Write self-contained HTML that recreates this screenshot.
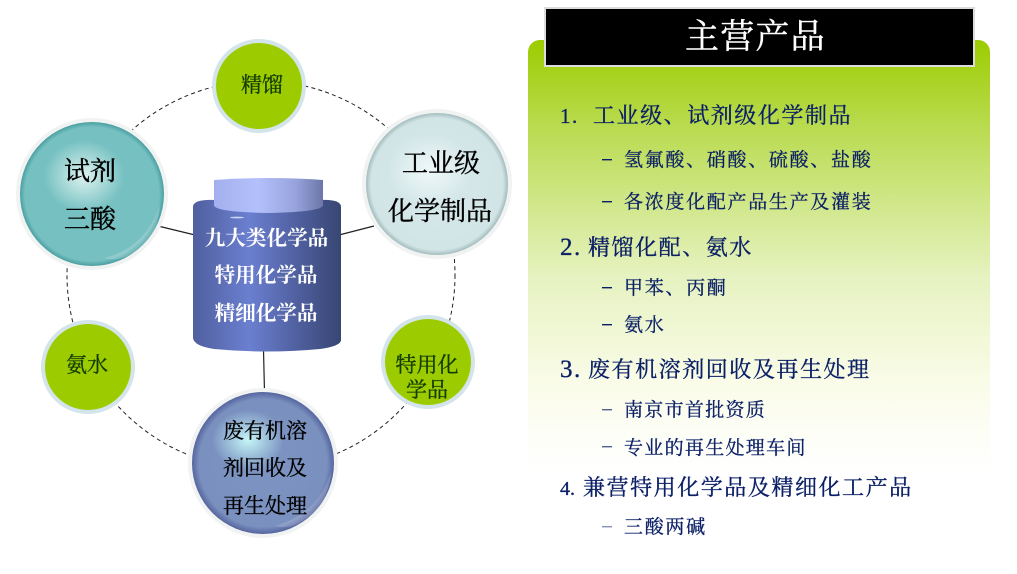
<!DOCTYPE html>
<html><head><meta charset="utf-8"><style>
html,body{margin:0;padding:0;background:#fff;width:1017px;height:574px;overflow:hidden}
svg{display:block}
text{font-family:"Liberation Serif","Noto Serif CJK SC",serif;paint-order:stroke}
.l{fill:#0b1f66;stroke:#0b1f66;stroke-width:.35px;font-size:22px;letter-spacing:1.55px}
.s{fill:#0b1f66;stroke:#0b1f66;stroke-width:.3px;font-size:19px;letter-spacing:1.7px}
.d{fill:#0b1f66}
.k{fill:#000;stroke:#000;stroke-width:.4px;font-size:26px;text-anchor:middle}
.m{fill:#000;stroke:#000;stroke-width:.35px;font-size:21px;text-anchor:middle}
.g{fill:#143c00;stroke:#143c00;stroke-width:.35px;font-size:21px;text-anchor:middle}
.w{fill:#fff;font-size:20.6px;font-weight:700;text-anchor:middle}
</style></head><body>
<svg width="1017" height="574" viewBox="0 0 1017 574" xmlns="http://www.w3.org/2000/svg">
<defs>
<linearGradient id="p" x1="0" y1="0" x2="0" y2="1"><stop offset="0" stop-color="#9ccc00"/><stop offset=".2" stop-color="#b9db4f"/><stop offset=".55" stop-color="#e6f2c0"/><stop offset=".8" stop-color="#fafce9"/><stop offset="1" stop-color="#fff"/></linearGradient>
<linearGradient id="body" x1="0" y1="0" x2="1" y2="0"><stop offset="0" stop-color="#4f5f9f"/><stop offset=".14" stop-color="#5a6bb0"/><stop offset=".38" stop-color="#6b7fd0"/><stop offset=".7" stop-color="#5060a0"/><stop offset="1" stop-color="#374672"/></linearGradient>
<linearGradient id="lid" x1="0" y1="0" x2="1" y2="0"><stop offset="0" stop-color="#a4b0ee"/><stop offset=".4" stop-color="#b4c0fb"/><stop offset=".75" stop-color="#97a3dc"/><stop offset="1" stop-color="#6c76a8"/></linearGradient>
<radialGradient id="teal"><stop offset="0" stop-color="#78c1c2"/><stop offset=".93" stop-color="#76c0c1"/><stop offset="1" stop-color="#4a9fa1"/></radialGradient>
<radialGradient id="pale"><stop offset="0" stop-color="#d6e8ea"/><stop offset=".93" stop-color="#d2e5e6"/><stop offset="1" stop-color="#a3bcbd"/></radialGradient>
<radialGradient id="blue"><stop offset="0" stop-color="#7d94c2"/><stop offset=".9" stop-color="#7a90bf"/><stop offset="1" stop-color="#55659f"/></radialGradient>
<radialGradient id="h1"><stop offset="0" stop-color="#e2f5f3" stop-opacity=".95"/><stop offset="1" stop-color="#e2f5f3" stop-opacity="0"/></radialGradient>
<radialGradient id="h2"><stop offset="0" stop-color="#f0f9f9" stop-opacity=".95"/><stop offset="1" stop-color="#f0f9f9" stop-opacity="0"/></radialGradient>
<radialGradient id="h3"><stop offset="0" stop-color="#c4f5f7" stop-opacity="1"/><stop offset="1" stop-color="#c4f5f7" stop-opacity="0"/></radialGradient>
</defs>

<!-- right panel -->
<path d="M528 470V52a12 12 0 0 1 12-12H978a12 12 0 0 1 12 12V470Z" fill="url(#p)"/>
<rect x="545" y="8" width="429" height="58" fill="#000" stroke="#dcdcdc" stroke-width="2"/>
<text x="685" y="48" fill="#fff" stroke="#fff" stroke-width=".4" font-size="34" letter-spacing="1.2">主营产品</text>

<text class="l" x="560" y="123" style="font-size:21px">1.</text><text class="l" x="593" y="123">工业级、试剂级化学制品</text>
<rect class="d" x="602" y="159" width="10" height="1.4"/><text class="s" x="624" y="166">氢氟酸、硝酸、硫酸、盐酸</text>
<rect class="d" x="602" y="201" width="10" height="1.4"/><text class="s" x="624" y="208">各浓度化配产品生产及灌装</text>
<text class="l" x="560" y="255" style="font-size:25px">2.</text><text class="l" x="588" y="255">精馏化配、氨水</text>
<rect class="d" x="602" y="287" width="10" height="1.4"/><text class="s" x="624" y="294">甲苯、丙酮</text>
<rect class="d" x="602" y="324" width="10" height="1.4"/><text class="s" x="624" y="331">氨水</text>
<text class="l" x="560" y="377" style="font-size:25px">3.</text><text class="l" x="588" y="377">废有机溶剂回收及再生处理</text>
<rect class="d" x="602" y="409" width="10" height="1.4" opacity=".7"/><text class="s" x="624" y="416" style="letter-spacing:1.3px">南京市首批资质</text>
<rect class="d" x="602" y="446" width="10" height="1.4" opacity=".7"/><text class="s" x="624" y="454" style="letter-spacing:1.3px">专业的再生处理车间</text>
<text class="l" x="560" y="495" style="font-size:20px;letter-spacing:0">4.</text><text class="l" x="583" y="495">兼营特用化学品及精细化工产品</text>
<rect x="602" y="526" width="10" height="1.4" fill="#8a93b5"/><text class="s" x="624" y="533">三酸两碱</text>

<!-- dashed ring -->
<circle cx="261" cy="275" r="194" fill="none" stroke="#222" stroke-width="1" stroke-dasharray="4 3.2"/>

<!-- connectors -->
<path d="M158 226L195 235M339 235L374 226M263.500 350L264.500 392" stroke="#222" stroke-width="1.2" fill="none"/>

<!-- cylinder -->
<path d="M193 207Q193 199 215 200H320Q341 199 341 207V340Q341 346 320 349Q267 354 214 349Q194 346 193 338Z" fill="url(#body)"/>
<path d="M214 180Q268 176 323 180V205Q323 212 268 213Q214 212 214 205Z" fill="url(#lid)"/>
<ellipse cx="237" cy="217.500" rx="7" ry=".9" fill="#dfe5ff" opacity=".85"/>
<text class="w" x="266.500" y="245">九大类化学品</text>
<text class="w" x="266" y="282">特用化学品</text>
<text class="w" x="266" y="320">精细化学品</text>

<!-- nodes -->
<circle cx="259" cy="86" r="47" fill="#d3e4ea"/><circle cx="259" cy="86" r="43" fill="#9ccc00"/>
<circle cx="88" cy="367" r="47" fill="#d3e4ea"/><circle cx="88" cy="367" r="43" fill="#9ccc00"/>
<circle cx="428" cy="362" r="47" fill="#d3e4ea"/><circle cx="428" cy="362" r="43" fill="#9ccc00"/>

<circle cx="92" cy="194" r="76" fill="#f1f3f3"/><circle cx="92" cy="194" r="72" fill="url(#teal)"/>
<ellipse cx="84" cy="176" rx="40" ry="36" fill="url(#h1)"/>
<path d="M104 258Q146 248 160 204Q158 240 132 254Q118 262 104 258Z" fill="#fff" opacity=".18"/>

<circle cx="437" cy="184" r="75" fill="#f1f3f3"/><circle cx="437" cy="184" r="71" fill="url(#pale)"/>
<ellipse cx="430" cy="170" rx="42" ry="36" fill="url(#h2)"/>

<circle cx="263" cy="463" r="75" fill="#f1f3f3"/><circle cx="263" cy="463" r="71" fill="url(#blue)"/>
<ellipse cx="248" cy="440" rx="36" ry="30" fill="url(#h3)"/>
<path d="M275 526Q318 514 331 472Q328 506 304 520Q290 530 275 526Z" fill="#fff" opacity=".18"/>

<text class="g" x="262" y="92">精馏</text>
<text class="g" x="87" y="372">氨水</text>
<text class="g" x="427" y="372">特用化</text>
<text class="g" x="427" y="397">学品</text>
<text class="k" x="90" y="180">试剂</text>
<text class="k" x="90" y="228">三酸</text>
<text class="k" x="441" y="172">工业级</text>
<text class="k" x="440" y="220">化学制品</text>
<text class="m" x="265" y="438">废有机溶</text>
<text class="m" x="265" y="475">剂回收及</text>
<text class="m" x="265" y="513">再生处理</text>
</svg>
</body></html>
